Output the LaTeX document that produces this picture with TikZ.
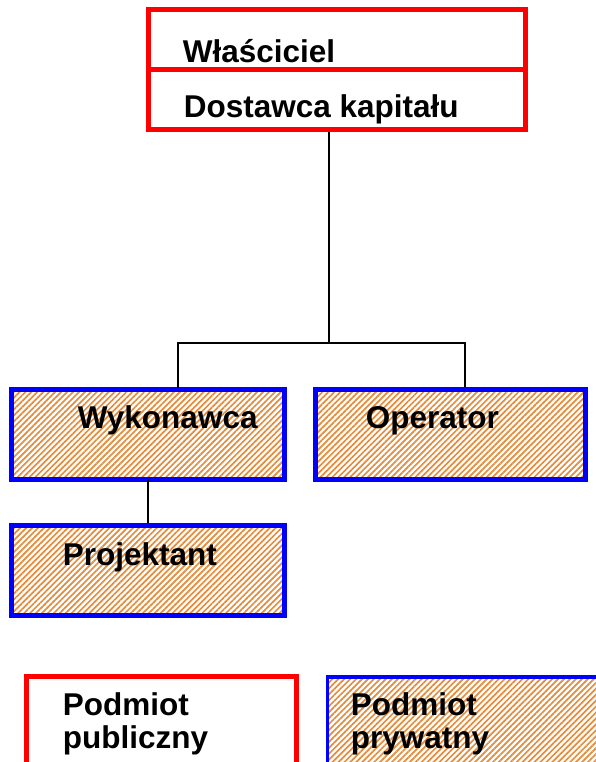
\documentclass[tikz,border=0pt]{standalone}
\usepackage{fontspec}
\setmainfont{Liberation Sans}
\usetikzlibrary{patterns.meta}
\definecolor{hatch}{RGB}{228,140,60}

\begin{document}
\begin{tikzpicture}[x = 1pt, y = -1pt, line width = 1.6pt,
    pub/.style = {draw = red, line width = 5pt, minimum width = #1, minimum height = 60pt, inner sep = 0pt},
    priv/.style = {draw = blue, line width = 5pt, minimum width = #1, minimum height = 90pt, inner sep = 0pt,
        pattern = {Lines[angle = 45, distance = 4.2pt, line width = 1.7pt]}, pattern color = hatch},
    txt/.style = {anchor = base west, inner sep = 0pt, align = left,
        font = \fontsize{31.5}{33}\selectfont\bfseries}]
\useasboundingbox (0,0) rectangle (595,762);
% top boxes
\node[pub = 377pt] (wl) at (336.5,40) {};
\node[pub = 377pt] (dk) at (336.5,100) {};
\node[txt] (twl) at (182,63) {Właściciel};
\node[txt] (tdk) at (183,118) {Dostawca kapitału};
% contractors
\node[priv = 273.5pt] (wy) at (147.75,434) {};
\node[priv = 270pt] (op) at (450,434) {};
\node[priv = 273.5pt, minimum height = 90pt] (pr) at (147.75,570) {};
\node[txt] (twy) at (77,428) {Wykonawca};
\node[txt] (top) at (365,428) {Operator};
\node[txt] (tpr) at (62,565) {Projektant};
% connectors
\coordinate (j) at (329,343);
\draw (dk.south -| j) -- (j);
\draw ([xshift = 30.25pt]wy.north) |- (j) -| ([xshift = 15pt]op.north);
\draw (wy.south) -- (pr.south |- pr.north);
% legend
\node[pub = 270pt, minimum height = 120pt] (lpub) at (161,736) {};
\node[priv = 290pt, minimum height = 120pt, line width = 3.5pt] (lpriv) at (472.5,737) {};
\node[txt] (tpub) at (62,748) {Podmiot\\publiczny};
\node[txt] (tpriv) at (350,748) {Podmiot\\prywatny};
\end{tikzpicture}
\end{document}
